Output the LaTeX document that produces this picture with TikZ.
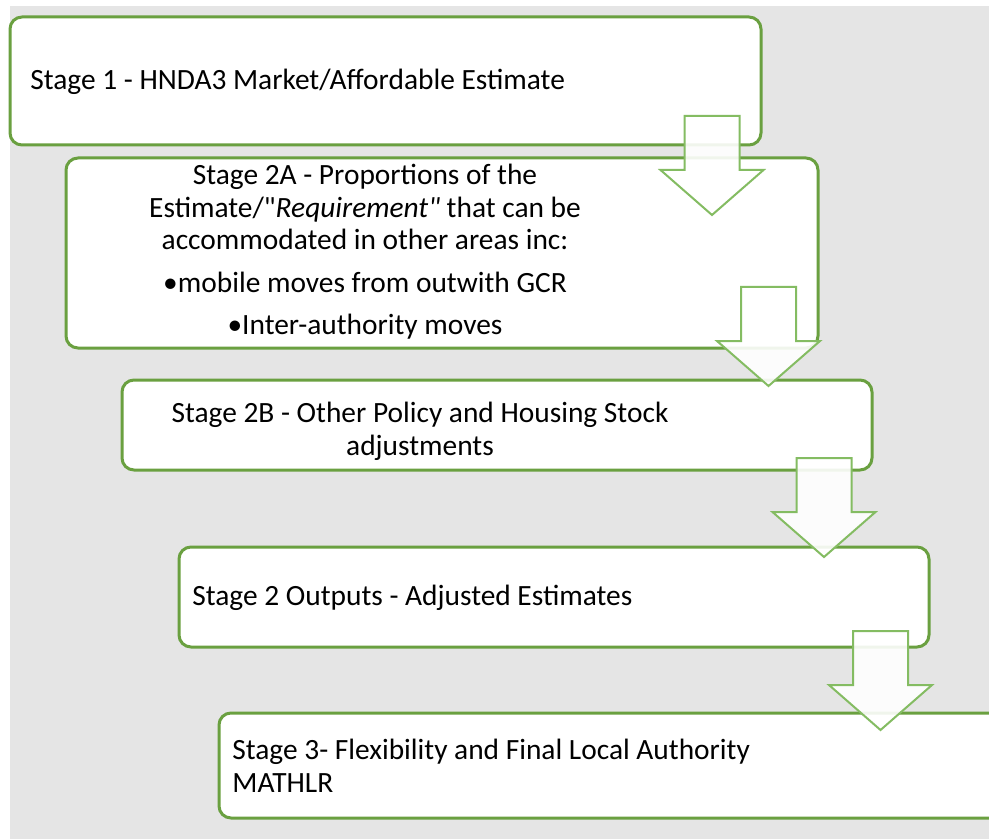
\documentclass[tikz,border=0pt]{standalone}
\usepackage{fontspec}
\setmainfont{Carlito}[Ligatures=TeXOff]
\definecolor{PanelClr}{RGB}{229,229,229}
\definecolor{BoxClr}{RGB}{106,160,64}
\definecolor{ArrowClr}{RGB}{132,188,98}

\begin{document}
\begin{tikzpicture}[x=.5pt,y=-.5pt,
  stagebox/.style={draw=BoxClr,line width=1.5pt,fill=white,rounded corners=6pt},
  stagetxt/.style={font=\fontsize{14.7}{16.25}\selectfont,inner sep=0pt},
  downarrow/.pic={\draw[draw=ArrowClr,line width=1pt,fill=white,fill opacity=.9]
    (-27.5,0) -- (27.5,0) -- (27.5,54) -- (51.5,54) -- (0,99) -- (-51.5,54) -- (-27.5,54) -- cycle;}]
\useasboundingbox (0,0) rectangle (989,839);
\clip (0,0) rectangle (989,839);
\fill[PanelClr] (10,6) rectangle (989,839);

\draw[stagebox] (10,17) rectangle (761,145);
\draw[stagebox] (66,158) rectangle (818,348);
\draw[stagebox] (122,380) rectangle (872,470);
\draw[stagebox] (179,547) rectangle (929,647);
\draw[stagebox] (219,713) rectangle (1010,818);

\node[stagetxt,anchor=base west] (stage1) at (30,90) {Stage 1 - HNDA3 Market/Affordable Estimate};
\node[stagetxt,anchor=base,align=center] (stage2a) at (365,335)
  {Stage 2A - Proportions of the\\
   Estimate/"\textit{Requirement"} that can be\\
   accommodated in other areas inc:\\[5pt]
   \textbullet mobile moves from outwith GCR\\[5pt]
   \textbullet Inter-authority moves};
\node[stagetxt,anchor=base,align=center] (stage2b) at (420,455)
  {Stage 2B - Other Policy and Housing Stock\\adjustments};
\node[stagetxt,anchor=base west] (stage2out) at (192,605) {Stage 2 Outputs - Adjusted Estimates};
\node[stagetxt,anchor=base west,align=left] (stage3) at (232,792)
  {Stage 3- Flexibility and Final Local Authority\\MATHLR};

\pic at (712,116) {downarrow};
\pic at (768.5,287) {downarrow};
\pic at (824,458) {downarrow};
\pic at (880.5,631) {downarrow};

\end{tikzpicture}
\end{document}
